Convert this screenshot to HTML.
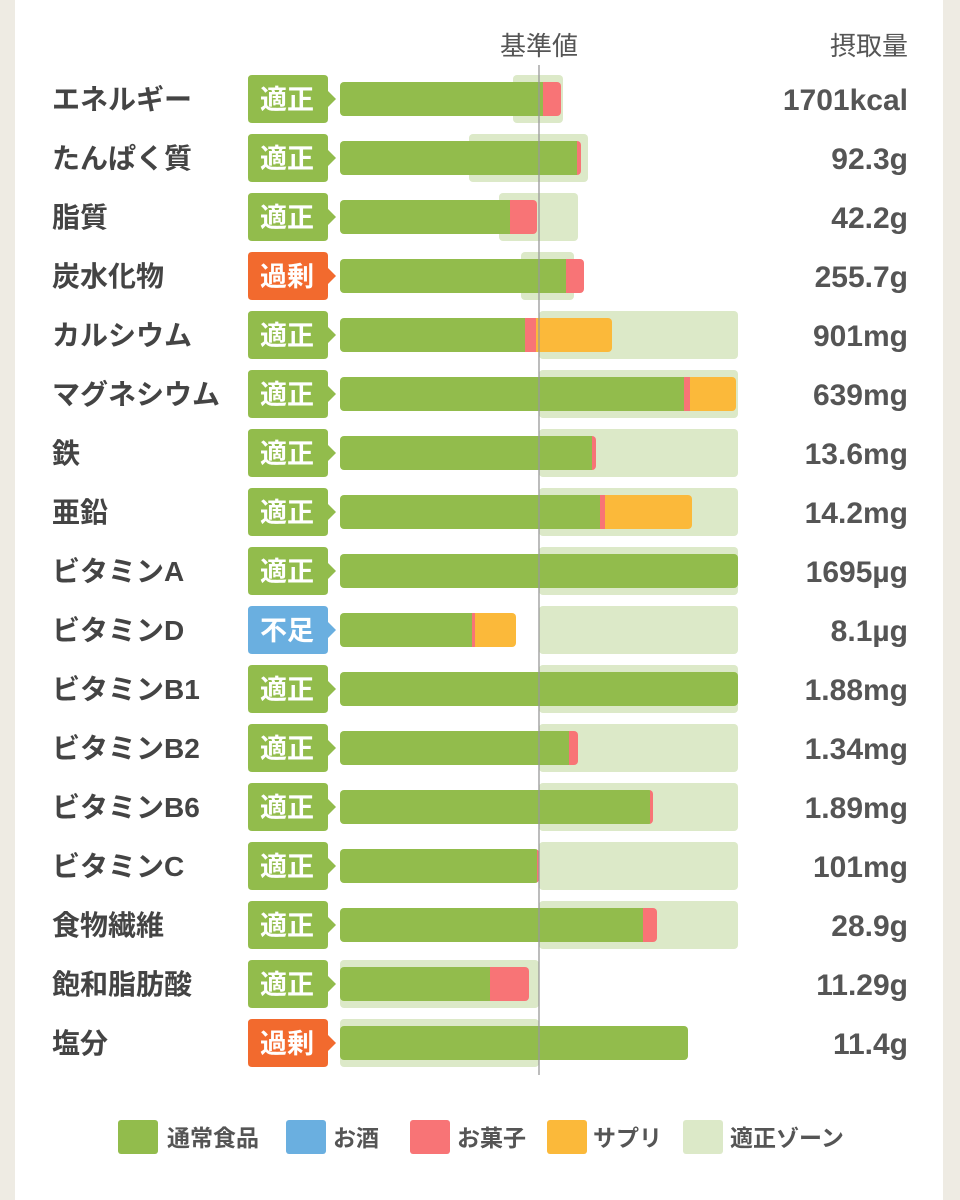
<!DOCTYPE html>
<html><head><meta charset="utf-8"><style>
html,body{margin:0;padding:0;background:#fff}
svg{display:block}
text{font-family:"Liberation Sans","Noto Sans CJK JP",sans-serif}
</style></head><body>
<svg width="960" height="1200" viewBox="0 0 960 1200" xmlns="http://www.w3.org/2000/svg">
<rect x="0" y="0" width="960" height="1200" fill="#fff"/>
<rect x="0" y="0" width="15" height="1200" fill="#eeebe3"/>
<rect x="943" y="0" width="17" height="1200" fill="#eeebe3"/>
<text x="539" y="55" font-size="26" fill="#555" text-anchor="middle">基準値</text>
<text x="908" y="55" font-size="26" fill="#555" text-anchor="end">摂取量</text>
<g id="rows"></g>
<line x1="539" y1="65" x2="539" y2="1075" stroke="#999" stroke-width="1.3"/>
<g font-size="23" fill="#555" font-weight="bold">
<rect x="118" y="1120" width="40" height="34" rx="3" fill="#92bc4c"/><text x="167" y="1146">通常食品</text>
<rect x="286" y="1120" width="40" height="34" rx="3" fill="#6aafe0"/><text x="333" y="1146">お酒</text>
<rect x="410" y="1120" width="40" height="34" rx="3" fill="#f87476"/><text x="457" y="1146">お菓子</text>
<rect x="547" y="1120" width="40" height="34" rx="3" fill="#fbb93a"/><text x="593" y="1146">サプリ</text>
<rect x="683" y="1120" width="40" height="34" rx="3" fill="#dce9c8"/><text x="730" y="1146">適正ゾーン</text>
</g>
</svg>
<script>
const G='#92bc4c',R='#f87476',O='#fbb93a',Z='#dce9c8';
const rows=[
["エネルギー","適正",513,563,[[543,G],[561,R]],"1701kcal"],
["たんぱく質","適正",469,588,[[577,G],[581,R]],"92.3g"],
["脂質","適正",499,578,[[510,G],[537,R]],"42.2g"],
["炭水化物","過剰",521,574,[[566,G],[584,R]],"255.7g"],
["カルシウム","適正",539,738,[[525,G],[536,R],[612,O]],"901mg"],
["マグネシウム","適正",539,738,[[684,G],[690,R],[736,O]],"639mg"],
["鉄","適正",539,738,[[592,G],[596,R]],"13.6mg"],
["亜鉛","適正",539,738,[[600,G],[605,R],[692,O]],"14.2mg"],
["ビタミンA","適正",539,738,[[738,G]],"1695µg"],
["ビタミンD","不足",539,738,[[472,G],[475,R],[516,O]],"8.1µg"],
["ビタミンB1","適正",539,738,[[738,G]],"1.88mg"],
["ビタミンB2","適正",539,738,[[569,G],[578,R]],"1.34mg"],
["ビタミンB6","適正",539,738,[[650,G],[653,R]],"1.89mg"],
["ビタミンC","適正",539,738,[[537,G],[539,R]],"101mg"],
["食物繊維","適正",539,738,[[643,G],[657,R]],"28.9g"],
["飽和脂肪酸","適正",340,539,[[490,G],[529,R]],"11.29g"],
["塩分","過剰",340,539,[[688,G]],"11.4g"]];
let s='';
rows.forEach((r,i)=>{
 const c=99+59*i;
 const bc=r[1]=="適正"?G:(r[1]=="過剰"?'#f26a2e':'#6aafe0');
 s+=`<rect x="${r[2]}" y="${c-24}" width="${r[3]-r[2]}" height="48" rx="4" fill="${Z}"/>`;
 const end=r[4][r[4].length-1][0];
 s+=`<clipPath id="cp${i}"><rect x="340" y="${c-17}" width="${end-340}" height="34" rx="4"/></clipPath><g clip-path="url(#cp${i})">`;
 let x=340;
 r[4].forEach(([e,col])=>{s+=`<rect x="${x}" y="${c-17}" width="${e-x}" height="34" fill="${col}"/>`;x=e;});
 s+=`</g>`;
 s+=`<path d="M252 ${c-24}H324Q328 ${c-24} 328 ${c-20}V${c-8}L336 ${c}L328 ${c+8}V${c+20}Q328 ${c+24} 324 ${c+24}H252Q248 ${c+24} 248 ${c+20}V${c-20}Q248 ${c-24} 252 ${c-24}Z" fill="${bc}"/>`;
 s+=`<text x="287" y="${c+10}" font-size="27" font-weight="bold" fill="#fff" text-anchor="middle">${r[1]}</text>`;
 s+=`<text x="52" y="${c+10}" font-size="28" font-weight="bold" fill="#444">${r[0]}</text>`;
 s+=`<text x="908" y="${c+11}" font-size="30" font-weight="bold" fill="#555" text-anchor="end">${r[5]}</text>`;
});
document.getElementById('rows').innerHTML=s;
</script>
</body></html>
